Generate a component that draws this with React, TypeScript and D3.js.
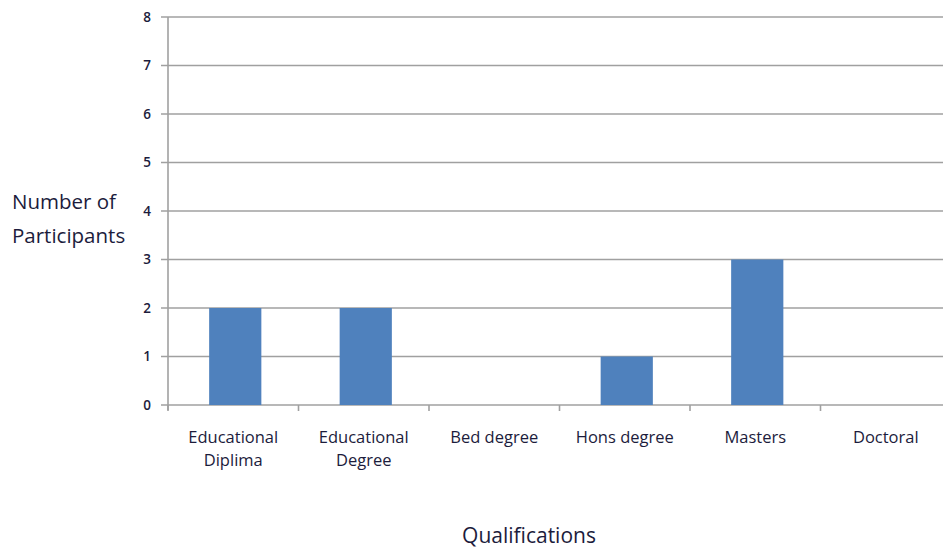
import React from "react";
import * as d3 from "d3";

const categories: string[][] = [
  ["Educational", "Diplima"],
  ["Educational", "Degree"],
  ["Bed degree"],
  ["Hons degree"],
  ["Masters"],
  ["Doctoral"],
];
const values: number[] = [2, 2, 0, 1, 3, 0];
const yTicks: number[] = [0, 1, 2, 3, 4, 5, 6, 7, 8];

const W = 943;
const H = 551;
const x0 = 168;
const step = 130.5;

export default function App() {
  const x = d3
    .scaleBand<number>()
    .domain(categories.map((_, i) => i))
    .range([x0, x0 + step * categories.length])
    .paddingInner(0.6)
    .paddingOuter(0.3);
  const y = d3.scaleLinear().domain([0, 8]).range([405, 17]);
  const font = "'Open Sans', 'Noto Sans', sans-serif";
  const textColor = "#1c1c3c";
  const grid = "#a0a0a0";

  return (
    <svg
      width={W}
      height={H}
      style={{ position: "absolute", left: 0, top: 0, background: "#fff" }}
    >
      {yTicks.map((t) => (
        <g key={t}>
          <line x1={x0 - 7} x2={W} y1={y(t)} y2={y(t)} stroke={grid} strokeWidth={1.6} />
          <text
            x={151}
            y={y(t)}
            dy="0.36em"
            textAnchor="end"
            fontFamily={font}
            fontSize={13.5}
            fontWeight={600}
            fill={textColor}
          >
            {t}
          </text>
        </g>
      ))}
      {values.map((v, i) =>
        v > 0 ? (
          <rect
            key={i}
            x={(x(i) as number) + 2}
            y={y(v)}
            width={x.bandwidth()}
            height={y(0) - y(v)}
            fill="#4f81bd"
          />
        ) : null
      )}
      <line x1={x0} x2={x0} y1={y(8)} y2={y(0) + 5} stroke={grid} strokeWidth={1.6} />
      {categories.map((_, i) => (
        <line
          key={i}
          x1={x0 + step * i}
          x2={x0 + step * i}
          y1={y(0)}
          y2={y(0) + 6}
          stroke={grid}
          strokeWidth={1.6}
        />
      ))}
      {categories.map((lines, i) => {
        const cx = (x(i) as number) + x.bandwidth() / 2;
        return (
          <text
            key={i}
            x={cx}
            y={442.5}
            textAnchor="middle"
            fontFamily={font}
            fontSize={16.5}
            fill={textColor}
          >
            {lines.map((l, j) => (
              <tspan key={j} x={cx} dy={j === 0 ? 0 : 23.5}>
                {l}
              </tspan>
            ))}
          </text>
        );
      })}
      <text x={12} y={209} fontFamily={font} fontSize={20.5} fill={textColor}>
        Number of
      </text>
      <text x={12} y={243} fontFamily={font} fontSize={20.5} fill={textColor}>
        Participants
      </text>
      <text
        x={529}
        y={543}
        textAnchor="middle"
        fontFamily={font}
        fontSize={21}
        fill={textColor}
      >
        Qualifications
      </text>
    </svg>
  );
}
